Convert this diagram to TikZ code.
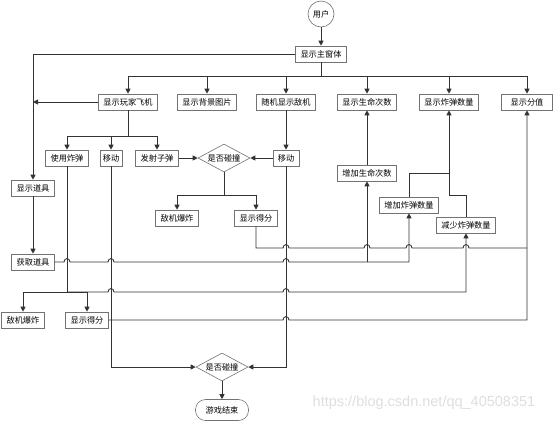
\documentclass[tikz,border=0pt]{standalone}
\usepackage{fontspec}
\setmainfont{Noto Sans CJK SC}
\newfontfamily\markfont{Liberation Sans}
\usetikzlibrary{arrows.meta, shapes.geometric, shadows}

% small bump where a line jumps over another one
\newcommand{\hop}[2]{-- (#1-3,#2) .. controls (#1-3,#2-4.5) and (#1+3,#2-4.5) .. (#1+3,#2)}

\begin{document}
\begin{tikzpicture}[x=1pt, y=-1pt,
    font=\fontsize{8.2pt}{10pt}\selectfont,
    box/.style={draw=black!55, line width=0.6pt, fill=white, inner xsep=5pt, inner ysep=0pt,
      minimum height=16pt, drop shadow={shadow xshift=0.8pt, shadow yshift=-0.8pt, opacity=0.25}},
    decide/.style={diamond, draw=black!55, line width=0.6pt, fill=white, inner sep=0pt,
      minimum width=52pt, minimum height=28pt},
    link/.style={line width=0.9pt, draw=black!80},
    arr/.style={-{Triangle[length=5pt,width=5pt]}}]
  \useasboundingbox (0,0) rectangle (554,421);

  % Start
  \node[circle, draw=black!55, line width=0.6pt, fill=white, minimum size=26pt, inner sep=0pt] (user) at (321,14) {用户};
  \node[box] (main) at (321,54) {显示主窗体};

  % Second row
  \node[box] (plane) at (128,102) {显示玩家飞机};
  \node[box] (bg) at (207,102) {显示背景图片};
  \node[box] (enemy) at (286,102) {随机显示敌机};
  \node[box] (life) at (367,102) {显示生命次数};
  \node[box] (bombs) at (449,102) {显示炸弹数量};
  \node[box, minimum width=51pt] (score) at (527,102) {显示分值};

  % Third row
  \node[box] (usebomb) at (67,158) {使用炸弹};
  \node[box, inner xsep=3pt] (move1) at (111,158) {移动};
  \node[box] (fire) at (157,158) {发射子弹};
  \node[decide, label={center:是否碰撞}] (hit1) at (224,158) {};
  \node[box] (move2) at (286,158) {移动};

  % Items
  \node[box] (showtool) at (33,188) {显示道具};
  \node[box] (gettool) at (33,262) {获取道具};

  % Hit results
  \node[box] (boom1) at (177,218) {敌机爆炸};
  \node[box] (gain1) at (256,218) {显示得分};
  \node[box] (boom2) at (23,320) {敌机爆炸};
  \node[box] (gain2) at (87,320) {显示得分};

  % Counters
  \node[box] (addlife) at (367,173) {增加生命次数};
  \node[box] (addbomb) at (409,205) {增加炸弹数量};
  \node[box] (subbomb) at (466,225) {减少炸弹数量};

  % End
  \node[decide, label={center:是否碰撞}] (hit2) at (222,367) {};
  \node[draw=black!55, line width=0.6pt, fill=white, rounded corners=10pt, minimum width=53pt,
    minimum height=21pt, inner sep=0pt] (over) at (222,410) {游戏结束};

  \node[text=black!13, font=\markfont\fontsize{14.5pt}{16pt}\selectfont] (mark) at (424,403) {https://blog.csdn.net/qq\_40508351};

  % Window
  \coordinate (bus1) at (321,76);
  \draw[link, arr] (user) -- (main);
  \draw[link] (main.south) -- (bus1);
  \foreach \n in {plane,bg,enemy,life,bombs,score} {
    \draw[link, arr] (bus1) -| (\n.north);
  }
  \draw[link, arr] (main.west) -| (showtool.north);
  \draw[link, arr] (plane.west) -- (plane.west -| showtool.north);
  \draw[link, arr] (showtool) -- (gettool);

  % Player
  \coordinate (bus2) at (128,136);
  \draw[link] (plane.south) -- (bus2);
  \foreach \n in {usebomb,move1,fire} {
    \draw[link, arr] (bus2) -| (\n.north);
  }
  \draw[link, arr] (fire) -- (hit1);
  \draw[link, arr] (enemy) -- (move2);
  \draw[link, arr] (move2) -- (hit1);

  % First collision
  \coordinate (bus3) at (224,195);
  \draw[link] (hit1.south) -- (bus3);
  \draw[link, arr] (bus3) -| (boom1.north);
  \draw[link, arr] (bus3) -| (gain1.north);
  \draw[link] (gain1.south) -- (256,248) \hop{286}{248} \hop{367}{248} \hop{409}{248} \hop{466}{248} -- (527,248);

  % Items
  \draw[link, arr] (gettool.east) \hop{67}{262} \hop{111}{262} \hop{286}{262} -- (409,262) -- (addbomb.south);
  \draw[link, arr] (367,262) -- (addlife.south);
  \draw[link, arr] (addlife) -- (life);
  \draw[link] (addbomb.north) |- (449,173);
  \draw[link, arr] (subbomb.north) |- (449,195) -- (bombs.south);

  % Bomb
  \coordinate (bus4) at (67,292);
  \draw[link] (usebomb.south) -- (bus4);
  \draw[link, arr] (bus4) -| (boom2.north);
  \draw[link, arr] (bus4) -| (gain2.north);
  \draw[link, arr] (bus4) \hop{111}{292} \hop{286}{292} -- (466,292) -- (subbomb.south);
  \draw[link, arr] (gain2.east) \hop{286}{320} -- (527,320) -- (score.south);

  % Second collision
  \draw[link, arr] (move1.south) |- (hit2.west);
  \draw[link, arr] (move2.south) |- (hit2.east);
  \draw[link, arr] (hit2) -- (over);
\end{tikzpicture}
\end{document}
